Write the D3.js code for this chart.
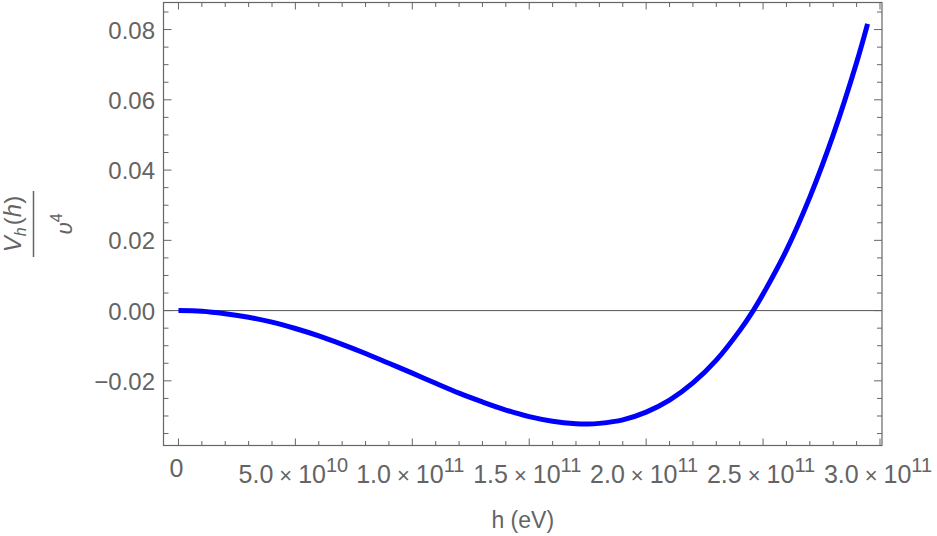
<!DOCTYPE html>
<html>
<head>
<meta charset="utf-8">
<script src="https://cdn.jsdelivr.net/npm/d3@7"></script>
<style>
  body { margin: 0; background: #fff; }
  text { font-family: "Liberation Sans", Arial, sans-serif; fill: #646464; }
</style>
</head>
<body>
<div id="chart"></div>
<script>
// h in eV, V_h(h)/v^4
var hValues = [0, 1e10, 2e10, 3e10, 4e10, 5e10, 6e10, 7e10, 8e10, 9e10,
  1.0e11, 1.1e11, 1.2e11, 1.3e11, 1.4e11, 1.5e11, 1.6e11, 1.7e11, 1.75e11, 1.8e11,
  1.9e11, 2.0e11, 2.1e11, 2.2e11, 2.3e11, 2.4e11, 2.458e11, 2.5e11, 2.6e11, 2.7e11,
  2.8e11, 2.9e11, 2.947e11];
var vValues = [0, -0.0002, -0.0009, -0.0019, -0.0033, -0.0051, -0.0072, -0.0096, -0.0122, -0.0150,
  -0.0178, -0.0207, -0.0235, -0.0260, -0.0283, -0.0302, -0.0315, -0.0322, -0.0323, -0.0321,
  -0.0311, -0.0289, -0.0255, -0.0206, -0.0141, -0.0057, 0, 0.0047, 0.0172, 0.0323,
  0.0500, 0.0706, 0.0816];

var xTicks = [0, 5e10, 1e11, 1.5e11, 2e11, 2.5e11, 3e11];
var xMantissa = ["0", "5.0", "1.0", "1.5", "2.0", "2.5", "3.0"];
var xExponent = ["", "10", "11", "11", "11", "11", "11"];

var yTicks = [-0.02, 0, 0.02, 0.04, 0.06, 0.08];
var yTickLabels = ["\u22120.02", "0.00", "0.02", "0.04", "0.06", "0.08"];

var width = 937,
    height = 536;

var x = d3.scaleLinear().domain([-6.4e9, 3.0086e11]).range([163.5, 882]);
var y = d3.scaleLinear().domain([-0.0384, 0.0877]).range([445.5, 2.5]);

var svg = d3.select("#chart")
  .append("svg")
  .attr("width", width)
  .attr("height", height);

var x0 = x.range()[0], x1 = x.range()[1],
    y0 = y.range()[0], y1 = y.range()[1];

// zero line
svg.append("line")
  .attr("x1", x0).attr("x2", x1)
  .attr("y1", y(0)).attr("y2", y(0))
  .style("stroke", "#555").style("stroke-width", 1);

// ticks, inward on all four sides
var xMinor = d3.range(0, 3.0001e11, 1e10).filter(function(d) { return d % 5e10 !== 0; });
var yMinor = d3.range(-0.035, 0.0851, 0.005).filter(function(d) {
  return Math.abs(Math.round(d / 0.02) * 0.02 - d) > 1e-6;
});

var ticks = svg.append("g").style("stroke", "#666").style("stroke-width", 1);

function xTick(d, len) {
  ticks.append("line").attr("x1", x(d)).attr("x2", x(d)).attr("y1", y0).attr("y2", y0 - len);
  ticks.append("line").attr("x1", x(d)).attr("x2", x(d)).attr("y1", y1).attr("y2", y1 + len);
}
function yTick(d, len) {
  ticks.append("line").attr("y1", y(d)).attr("y2", y(d)).attr("x1", x0).attr("x2", x0 + len);
  ticks.append("line").attr("y1", y(d)).attr("y2", y(d)).attr("x1", x1).attr("x2", x1 - len);
}
xTicks.forEach(function(d) { xTick(d, 7); });
xMinor.forEach(function(d) { xTick(d, 4.5); });
yTicks.forEach(function(d) { yTick(d, 8); });
yMinor.forEach(function(d) { yTick(d, 5); });

// frame
svg.append("rect")
  .attr("x", x0).attr("y", y1)
  .attr("width", x1 - x0).attr("height", y0 - y1)
  .style("fill", "none").style("stroke", "#666").style("stroke-width", 1.2);

// curve
var line = d3.line()
  .x(function(d, i) { return x(hValues[i]); })
  .y(function(d) { return y(d); })
  .curve(d3.curveCatmullRom.alpha(0.5));

svg.append("path")
  .datum(vValues)
  .attr("d", line)
  .style("fill", "none")
  .style("stroke", "#0000ff")
  .style("stroke-width", 5);

// y tick labels
svg.selectAll(".ylab")
  .data(yTicks)
  .enter().append("text")
  .attr("class", "ylab")
  .attr("x", 155)
  .attr("y", function(d) { return y(d) + 9; })
  .attr("text-anchor", "end")
  .style("font-size", "24px")
  .text(function(d, i) { return yTickLabels[i]; });

// x tick labels
var xl = svg.selectAll(".xlab")
  .data(xTicks)
  .enter().append("text")
  .attr("class", "xlab")
  .attr("x", function(d) { return x(d) - 2; })
  .attr("y", function(d, i) { return xExponent[i] ? 483 : 477; })
  .attr("text-anchor", "middle")
  .style("font-size", "25px");

xl.append("tspan").text(function(d, i) { return xMantissa[i]; });
xl.append("tspan")
  .attr("dx", function(d, i) { return xExponent[i] ? 6 : 0; })
  .style("font-size", "22px")
  .text(function(d, i) { return xExponent[i] ? "\u00d7" : ""; });
xl.append("tspan")
  .attr("dx", function(d, i) { return xExponent[i] ? 6 : 0; })
  .text(function(d, i) { return xExponent[i] ? "10" : ""; });
xl.append("tspan")
  .attr("dy", -11)
  .style("font-size", "20px")
  .text(function(d, i) { return xExponent[i]; });

// axis titles
svg.append("text")
  .attr("x", (x0 + x1) / 2)
  .attr("y", 528)
  .attr("text-anchor", "middle")
  .style("font-size", "23px")
  .text("h (eV)");

var ylab = svg.append("g")
  .attr("transform", "translate(33.5,224) rotate(-90)");

ylab.append("line")
  .attr("x1", -33).attr("x2", 33)
  .attr("y1", 0).attr("y2", 0)
  .style("stroke", "#646464").style("stroke-width", 1.5);

var num = ylab.append("text")
  .attr("x", 0).attr("y", -13)
  .attr("text-anchor", "middle")
  .style("font-size", "24px");
num.append("tspan").style("font-style", "italic").text("V");
num.append("tspan").attr("dy", 5).style("font-size", "16px").style("font-style", "italic").text("h");
num.append("tspan").attr("dy", -5).attr("dx", 2).text("(");
num.append("tspan").style("font-style", "italic").text("h");
num.append("tspan").text(")");

var den = ylab.append("text")
  .attr("x", 0).attr("y", 38)
  .attr("text-anchor", "middle")
  .style("font-size", "23px");
den.append("tspan").style("font-style", "italic").text("\u03c5");
den.append("tspan").attr("dy", -10).style("font-size", "16px").text("4");
</script>
</body>
</html>
